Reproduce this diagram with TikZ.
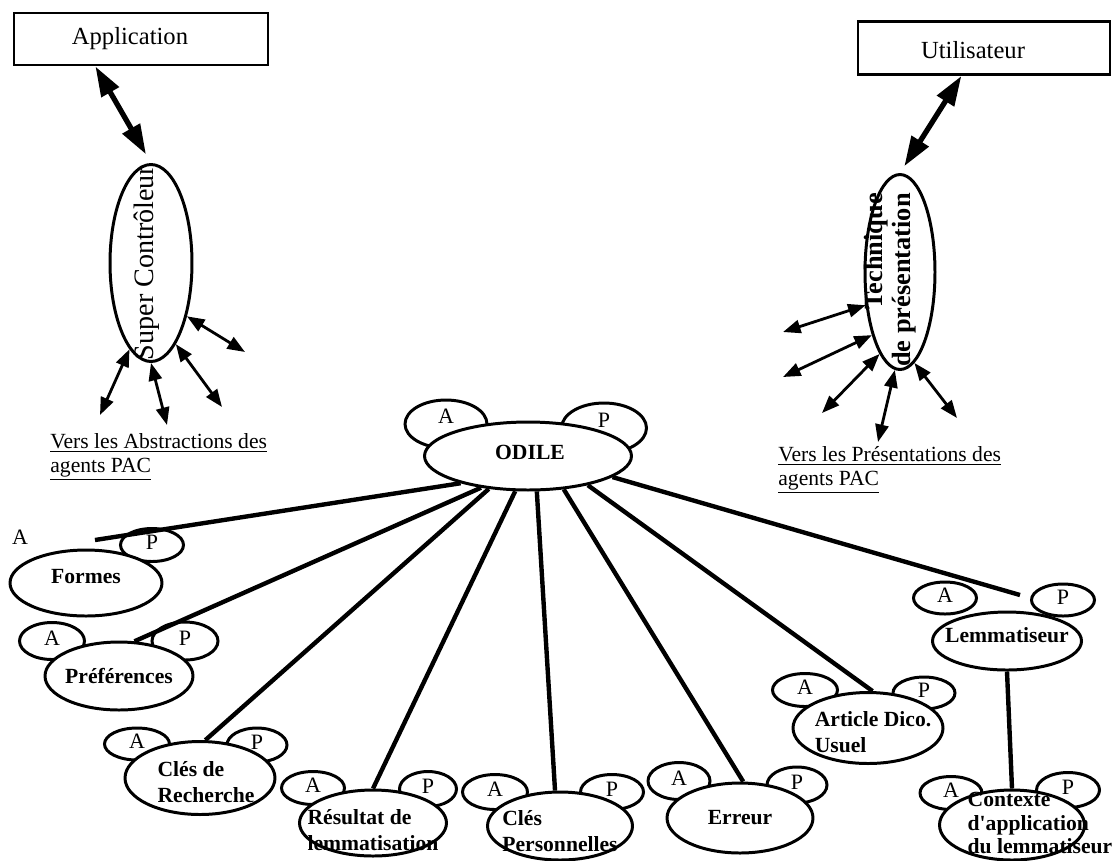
\documentclass[tikz,border=0pt]{standalone}
\usepackage{fontspec}
\setmainfont{Liberation Serif}
\usetikzlibrary{shapes.geometric,arrows.meta}

\begin{document}
\begin{tikzpicture}[x=0.02cm, y=-0.02cm,
    agent/.style={ellipse, draw, line width=1.7pt, fill=white, inner sep=0pt},
    ear/.style={ellipse, draw, line width=1.7pt, inner sep=0pt, label={[earletter]center:#1}},
    earletter/.style={font=\fontsize{12.5}{14}\selectfont, yshift=0.06cm},
    agentname/.style={font=\bfseries\fontsize{12.3}{15}\selectfont, align=left},
    bigbox/.style={draw, line width=1.6pt, inner sep=0pt},
    boxtext/.style={font=\fontsize{14}{16}\selectfont},
    note/.style={font=\fontsize{12.3}{13.5}\selectfont, align=left, inner sep=0pt},
    link/.style={line width=2.5pt},
    bigarrow/.style={<->, >={Triangle[length=17pt,width=11pt]}, line width=3pt},
    smallarrow/.style={<->, >={Triangle[length=10pt,width=7.5pt]}, line width=1.6pt}]

\useasboundingbox (0,0) rectangle (1115,860);

\node[bigbox, minimum width=5.08cm, minimum height=1.04cm, label={[boxtext, xshift=-0.22cm]center:Application}] (app) at (141,39) {};
\node[bigbox, minimum width=5.04cm, minimum height=1.06cm, label={[boxtext, xshift=-0.22cm, yshift=-0.04cm]center:Utilisateur}] (user) at (984,48) {};

\node[agent, minimum width=1.64cm, minimum height=3.94cm, label={[font=\fontsize{16}{18}\selectfont, xshift=-0.08cm, rotate=90]center:Super Contrôleur}] (super) at (151,263) {};
\node[agent, minimum width=1.4cm, minimum height=3.9cm, label={[agentname, font=\bfseries\fontsize{15}{16}\selectfont, align=right, xshift=-0.2cm, yshift=-0.16cm, rotate=90]center:Technique\\de présentation}] (tech) at (900,272) {};

\draw[bigarrow, shorten >=0.2cm] (app.211) -- (super.north);
\draw[bigarrow, shorten >=0.16cm] (user.231) -- (tech.north);

\foreach \a/\ex/\ey [count=\i] in {304/245/352, 287/222/407, 270/167/425, 256/100/415} {
  \coordinate (sc\i) at (\ex,\ey);
  \draw[smallarrow] (super.\a) -- (sc\i);
}
\foreach \a/\ex/\ey [count=\i] in {224/783/332, 246/783/377, 256/822/413, 267/878/442, 279/957/418} {
  \coordinate (tp\i) at (\ex,\ey);
  \draw[smallarrow] (tech.\a) -- (tp\i);
}

\node[note, anchor=north west] (abs-note) at (50,433) {\underline{Vers les Abstractions des}\\\underline{agents PAC}};
\node[note, anchor=north west] (pres-note) at (778,446) {\underline{Vers les Présentations des}\\\underline{agents PAC}};

\begin{scope}[every label/.append style={yshift=0.1cm}]
\node[ear=A, minimum width=1.64cm, minimum height=0.96cm] (odile-a) at (446,424) {};
\node[ear=P, minimum width=1.7cm, minimum height=1cm] (odile-p) at (604,428) {};
\end{scope}
\node[agent, minimum width=4.14cm, minimum height=1.36cm, label={[agentname, xshift=0.04cm, yshift=0.08cm]center:ODILE}] (odile) at (528,456) {};

\node[ear=A, draw=none] (formes-a) at (20,540) {};
\node[ear=P, minimum width=1.26cm, minimum height=0.66cm] (formes-p) at (152,545) {};
\node[agent, minimum width=3.04cm, minimum height=1.32cm, label={[agentname, yshift=0.12cm]center:Formes}] (formes) at (86,583) {};

\node[ear=A, minimum width=1.3cm, minimum height=0.74cm] (pref-a) at (52,641) {};
\node[ear=P, minimum width=1.32cm, minimum height=0.76cm] (pref-p) at (185,641) {};
\node[agent, minimum width=2.96cm, minimum height=1.36cm, label={[agentname]center:Préférences}] (pref) at (119,676) {};

\node[ear=A, minimum width=1.3cm, minimum height=0.64cm] (cles-a) at (137,744) {};
\node[ear=P, minimum width=1.2cm, minimum height=0.68cm] (cles-p) at (257,745) {};
\node[agent, minimum width=3cm, minimum height=1.46cm, label={[agentname, xshift=0.12cm, yshift=-0.08cm]center:Clés de\\Recherche}] (cles) at (200,778) {};

\node[ear=A, minimum width=1.26cm, minimum height=0.66cm] (res-a) at (313,788) {};
\node[ear=P, minimum width=1.14cm, minimum height=0.7cm] (res-p) at (428,789) {};
\node[agent, minimum width=2.94cm, minimum height=1.32cm, label={[agentname, yshift=-0.14cm]center:Résultat de\\lemmatisation}] (res) at (373,823) {};

\node[ear=A, minimum width=1.3cm, minimum height=0.7cm] (perso-a) at (495,792) {};
\node[ear=P, minimum width=1.26cm, minimum height=0.7cm] (perso-p) at (612,792) {};
\node[agent, minimum width=2.9cm, minimum height=1.36cm, label={[agentname, yshift=-0.1cm]center:Clés\\Personnelles}] (perso) at (560,826) {};

\node[ear=A, minimum width=1.24cm, minimum height=0.74cm] (err-a) at (679,781) {};
\node[ear=P, minimum width=1.2cm, minimum height=0.72cm] (err-p) at (797,785) {};
\node[agent, minimum width=2.92cm, minimum height=1.4cm, label={[agentname]center:Erreur}] (err) at (740,818) {};

\node[ear=A, minimum width=1.3cm, minimum height=0.66cm] (dico-a) at (805,690) {};
\node[ear=P, minimum width=1.24cm, minimum height=0.64cm] (dico-p) at (924,693) {};
\node[agent, minimum width=3cm, minimum height=1.42cm, label={[agentname, xshift=0.1cm, yshift=-0.08cm]center:Article Dico.\\Usuel}] (dico) at (868,728) {};

\node[ear=A, minimum width=1.26cm, minimum height=0.64cm] (lemma-a) at (945,598) {};
\node[ear=P, minimum width=1.26cm, minimum height=0.64cm] (lemma-p) at (1063,600) {};
\node[agent, minimum width=2.98cm, minimum height=1.16cm, label={[agentname, yshift=0.12cm]center:Lemmatiseur}] (lemma) at (1007,641) {};

\node[ear=A, minimum width=1.24cm, minimum height=0.66cm] (ctx-a) at (951,793) {};
\node[ear=P, minimum width=1.26cm, minimum height=0.7cm] (ctx-p) at (1068,790) {};
\node[agent, minimum width=2.9cm, minimum height=1.4cm, label={[agentname, font=\bfseries\fontsize{12.3}{13.2}\selectfont, xshift=0.56cm, yshift=0.04cm]center:Contexte\\d\textquotesingle application\\du lemmatiseur}] (ctx) at (1012,825) {};

\coordinate (formes-end) at (95,540);
\coordinate (lemma-end) at (1020,595);
\draw[link] (odile.202) -- (formes-end);
\draw[link] (odile.214) -- (pref.66);
\draw[link] (odile.220) -- (cles.82);
\draw[link] (odile.250) -- (res.north);
\draw[link] (odile.284) -- (perso.98);
\draw[link] (odile.317) -- (err.85);
\draw[link] (odile.334) -- (dico.83);
\draw[link] (odile.346) -- (lemma-end);
\draw[link] (lemma.south) -- (ctx.north);
\end{tikzpicture}
\end{document}
